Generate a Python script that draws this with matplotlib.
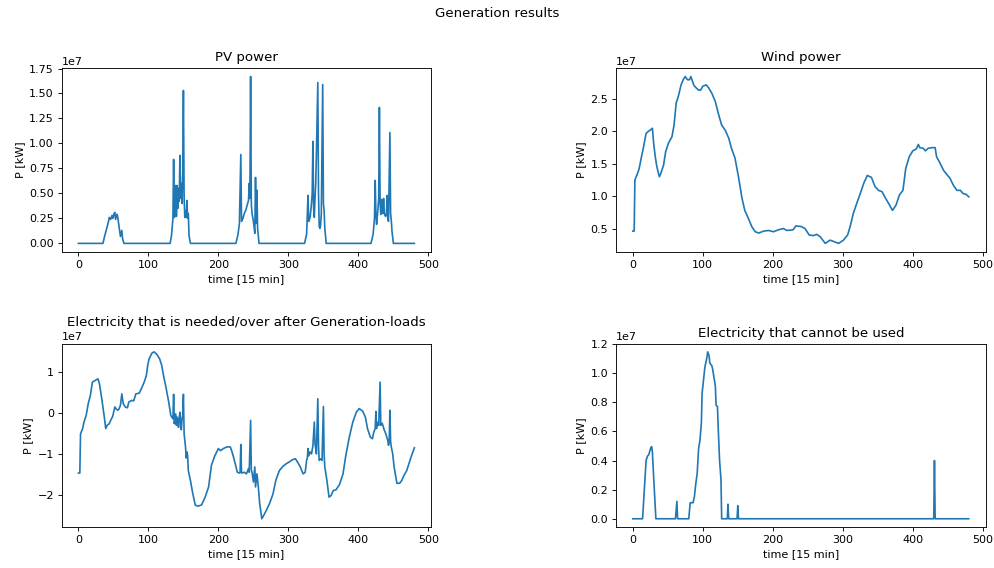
import numpy as np # import numpy package
import matplotlib
matplotlib.use("Agg")
import matplotlib.pyplot as plt # import matplotlib package

SCALE = 1e7 # values below are stored in units of 1e7 kW

# PV generation (time step, power)
pv_t = [0, 35, 37, 40, 43, 44, 46, 48, 49, 51, 52, 53, 55, 56, 58, 60, 62, 63, 65,
        131, 133, 135, 136, 137, 138, 139, 140, 141, 142, 143, 144, 145, 146, 147, 148, 149, 150,
        151, 152, 153, 154, 155, 156, 157, 158, 160,
        225, 228, 230, 232, 233, 235, 237, 239, 241, 243, 244, 245, 246, 247, 248, 250, 251, 252,
        253, 254, 255, 256, 258,
        323, 326, 328, 329, 331, 332, 333, 334, 335, 336, 337, 338, 339, 340, 342, 343, 344, 345,
        346, 347, 349, 350, 351, 352, 354,
        418, 421, 423, 424, 425, 426, 428, 429, 430, 431, 432, 433, 434, 435, 436, 437, 438, 439,
        440, 441, 442, 443, 445, 446, 447, 448, 450, 480]
pv_p = [0, 0, .06, .14, .22, .26, .24, .28, .25, .30, .31, .24, .29, .27, .17, .07, .13, .05, 0,
        0, .08, .25, .84, .26, .30, .58, .27, .58, .35, .55, .42, .88, .45, .60, .40, .70, 1.53,
        .45, .26, .32, .26, .43, .25, .30, .08, 0,
        0, .09, .20, .89, .22, .25, .30, .33, .38, .43, .60, .45, 1.67, .40, .30, .22, .16, .10,
        .66, .20, .53, .15, 0,
        0, .09, .48, .22, .26, .33, .40, .50, 1.02, .35, .26, .45, .60, .90, 1.61, .50, .17, .15,
        .18, .30, 1.59, .40, .33, .15, 0,
        0, .09, .25, .63, .30, .19, .35, .45, 1.36, .40, .29, .44, .35, .30, .45, .30, .28, .27,
        .30, .48, .25, .22, 1.11, .30, .23, .12, 0, 0]

# wind generation
wind_t = [0, 2, 3, 6, 9, 13, 15, 19, 22, 26, 28, 30, 32, 34, 36, 38, 40, 44, 47, 51, 56, 59, 62,
          65, 69, 72, 75, 78, 81, 83, 87, 90, 94, 97, 100, 105, 108, 113, 118, 121, 124, 127,
          132, 137, 141, 146, 151, 156, 160, 165, 170, 175, 180, 187, 194, 201, 208, 215, 220,
          229, 233, 241, 246, 252, 258, 263, 268, 275, 282, 287, 294, 301, 307, 311, 315, 320,
          325, 330, 335, 341, 346, 351, 356, 360, 367, 371, 376, 381, 386, 390, 395, 400, 405,
          408, 410, 415, 418, 422, 427, 432, 434, 439, 444, 449, 453, 458, 463, 468, 472, 476, 480]
wind_p = [.46, .46, 1.25, 1.33, 1.42, 1.64, 1.74, 1.97, 2.0, 2.03, 2.05, 1.80, 1.62, 1.48, 1.38,
          1.30, 1.35, 1.48, 1.69, 1.82, 1.92, 2.10, 2.44, 2.54, 2.72, 2.80, 2.85, 2.80, 2.80,
          2.85, 2.72, 2.68, 2.64, 2.64, 2.70, 2.72, 2.68, 2.59, 2.46, 2.33, 2.21, 2.10, 2.02,
          1.90, 1.74, 1.59, 1.30, .97, .78, .66, .53, .45, .43, .46, .47, .45, .48, .50, .47,
          .48, .54, .53, .50, .40, .39, .41, .37, .27, .32, .30, .27, .32, .40, .55, .73, .89,
          1.04, 1.20, 1.32, 1.29, 1.15, 1.09, 1.07, .99, .86, .78, .86, 1.02, 1.09, 1.43, 1.61,
          1.70, 1.73, 1.80, 1.75, 1.74, 1.70, 1.74, 1.75, 1.75, 1.61, 1.51, 1.40, 1.33, 1.28,
          1.17, 1.09, 1.09, 1.04, 1.03, .99]

# generation minus loads
rest_t = [0, 2, 3, 6, 8, 11, 14, 17, 20, 24, 28, 30, 33, 36, 37, 39, 41, 44, 46, 49, 52, 54, 56,
          58, 60, 62, 64, 67, 70, 72, 76, 79, 82, 87, 90, 94, 97, 99, 101, 105, 108, 112, 116,
          119, 122, 125, 129, 132, 135, 136, 137, 139, 140, 141, 142, 143, 144, 145, 146, 147,
          148, 149, 150, 151, 153, 154, 155, 156, 157, 160, 163, 167, 171, 176, 181, 186, 190,
          195, 200, 203, 207, 212, 217, 220, 224, 227, 230, 231, 232, 233, 237, 240, 243, 244,
          246, 247, 248, 250, 251, 252, 253, 255, 256, 257, 259, 262, 264, 268, 273, 278, 282,
          287, 292, 297, 301, 306, 310, 313, 317, 321, 324, 326, 327, 328, 329, 331, 333, 335,
          337, 338, 339, 340, 342, 343, 344, 346, 348, 350, 351, 352, 355, 358, 361, 364, 368,
          373, 378, 382, 387, 392, 397, 401, 406, 410, 413, 417, 420, 422, 424, 425, 426, 428,
          429, 431, 432, 434, 437, 439, 442, 443, 444, 445, 446, 447, 449, 451, 455, 459, 462,
          465, 469, 473, 476, 480]
rest_p = [-1.47, -1.47, -.51, -.38, -.22, -.06, .23, .43, .76, .80, .84, .72, .39, .02, -.10,
          -.38, -.30, -.26, -.18, -.08, .15, .10, .07, .10, .19, .47, .23, .15, .13, .27, .31,
          .30, .47, .49, .60, .76, .92, 1.17, 1.33, 1.47, 1.50, 1.44, 1.33, 1.17, .88, .64, .27,
          -.06, -.14, .46, -.26, -.02, -.30, -.10, -.18, -.35, -.10, .02, -.25, -.41, -.15,
          -.05, .46, -.51, -.83, -1.10, -.95, -1.04, -1.41, -1.65, -1.94, -2.26, -2.28, -2.25,
          -2.06, -1.81, -1.28, -1.04, -.87, -.92, -.87, -.83, -.83, -.98, -1.24, -1.45, -1.47,
          -1.45, -.77, -1.47, -1.45, -1.49, -1.36, -1.45, -.18, -1.40, -1.45, -1.69, -1.50,
          -1.32, -1.81, -1.49, -1.65, -1.81, -2.22, -2.59, -2.53, -2.40, -2.22, -1.98, -1.65,
          -1.41, -1.31, -1.24, -1.20, -1.14, -1.12, -1.20, -1.32, -1.49, -1.45, -1.16, -1.10,
          -.87, -1.05, -.95, -1.00, -.80, -.22, -.75, -.87, -1.00, .35, -.80, -1.16, -1.12,
          -1.16, .16, -1.00, -1.32, -1.65, -2.06, -2.02, -1.90, -1.88, -1.75, -1.49, -1.04,
          -.59, -.22, .02, .11, .05, -.10, -.38, -.59, -.63, -.47, -.38, .04, -.38, -.22, -.30,
          .76, -.30, -.25, -.42, -.50, -.67, -.79, -.70, .07, -.70, -.83, -1.00, -1.32, -1.72,
          -1.72, -1.65, -1.53, -1.41, -1.20, -1.04, -.85]

# surplus that cannot be used
lost_t = [0, 14, 15, 19, 21, 23, 24, 26, 27, 28, 30, 33, 61, 63, 64, 80, 82, 86, 88, 90, 92, 94,
          96, 98, 99, 101, 103, 106, 107, 109, 110, 113, 114, 116, 117, 118, 119, 121, 122, 124,
          126, 127, 135, 136, 137, 149, 150, 151, 430, 431, 432, 480]
lost_p = [0, 0, .08, .40, .43, .44, .46, .49, .495, .46, .27, 0, 0, .12, 0, 0, .11, .11, .15,
          .24, .31, .48, .54, .66, .86, .95, 1.04, 1.11, 1.146, 1.12, 1.07, 1.05, 1.03, .97, .94,
          .91, .78, .77, .63, .40, .27, 0, 0, .10, 0, 0, .09, 0, 0, .40, 0, 0]

panels = [("PV power", pv_t, pv_p),
          ("Wind power", wind_t, wind_p),
          ("Electricity that is needed/over after Generation-loads", rest_t, rest_p),
          ("Electricity that cannot be used", lost_t, lost_p)]


def plotResults():
    fig, axs = plt.subplots(2, 2, figsize=(12.425, 7.1), dpi=80) # 2x2 grid of plots
    fig.suptitle("Generation results", y=0.987) # overall title
    for ax, (title, t, p) in zip(axs.flat, panels):
        ax.plot(t, np.array(p) * SCALE) # draw the series
        ax.set_title(title) # title of each plot
        ax.set_xlabel("time [15 min]")
        ax.set_ylabel("P [kW]")
        ax.set_xticks([0, 100, 200, 300, 400, 500])
    plt.subplots_adjust(left=0.062, right=0.9915, bottom=0.072, top=0.88,
                        wspace=0.5, hspace=0.5) # spacing between plots
    plt.savefig("out.png") # save the figure


def main():
    plotResults()

main()
